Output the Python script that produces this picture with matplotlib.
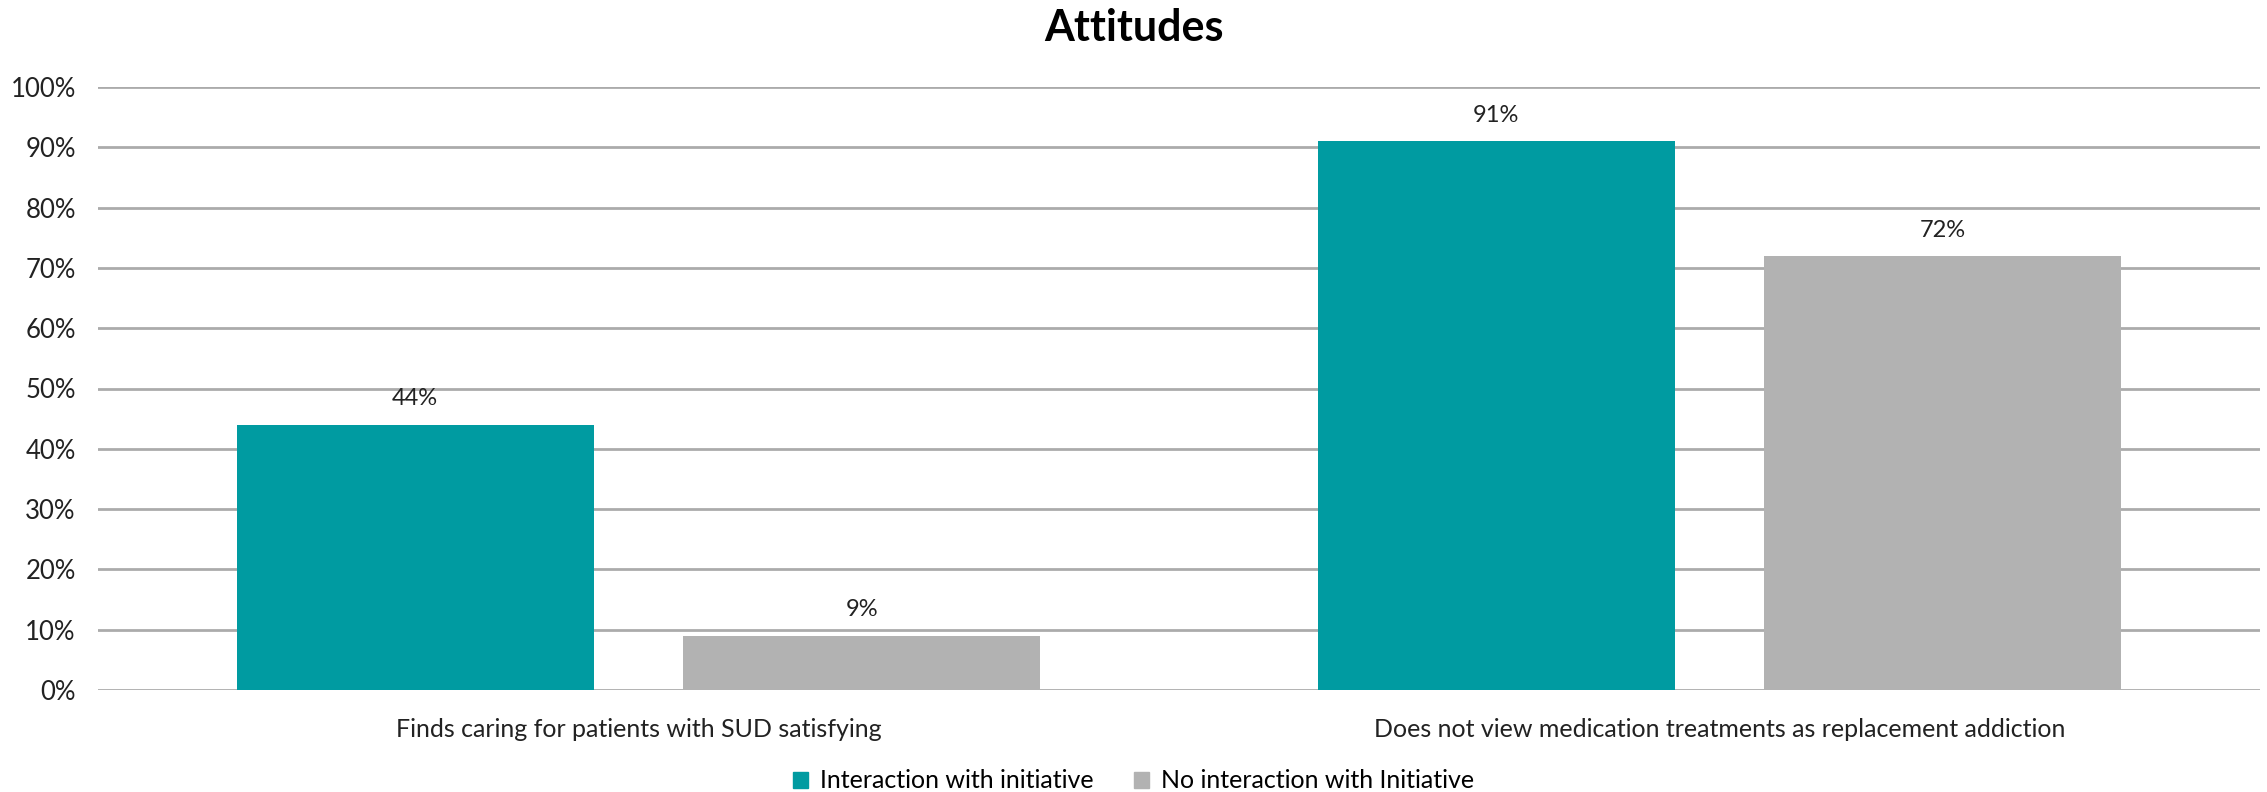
import matplotlib.pyplot as plt
import numpy as np
from matplotlib.patches import Patch

categories = ['Finds caring for patients with SUD satisfying',
              'Does not view medication treatments as replacement addiction']
series_names = ['Interaction with initiative', 'No interaction with Initiative']
interaction = [44, 91]
no_interaction = [9, 72]
ticks = list(range(0, 101, 10))

teal = '#009BA1'
grey = '#B2B2B2'
grid_col = '#ABABAB'

plt.rcParams['font.family'] = ['Lato', 'DejaVu Sans']

fig = plt.figure(figsize=(22.67, 7.92), dpi=100)
ax = fig.add_axes([98 / 2267, 1 - 690 / 792, 2162 / 2267, 603 / 792])

x = np.arange(len(categories))
w = 0.33
off = w / 2 + 0.0415
b1 = ax.bar(x - off, interaction, w, color=teal, zorder=3)
b2 = ax.bar(x + off, no_interaction, w, color=grey, zorder=3)

for bars, vals in ((b1, interaction), (b2, no_interaction)):
    for b, v in zip(bars, vals):
        ax.annotate(f'{v}%', (b.get_x() + b.get_width() / 2, v),
                    xytext=(0, 11), textcoords='offset points',
                    ha='center', va='bottom', fontsize=17, color='#222222')

ax.set_xlim(-0.5, 1.5)
ax.set_ylim(0, 100)
ax.set_yticks(ticks)
ax.set_yticklabels([f'{t}%' for t in ticks], fontsize=18.5, color='#222222')
ax.set_xticks(x)
ax.set_xticklabels(categories, fontsize=18, color='#222222')
ax.tick_params(axis='both', length=0)
ax.tick_params(axis='y', pad=16)
ax.tick_params(axis='x', pad=20)
ax.yaxis.grid(True, color=grid_col, linewidth=2, zorder=0)
for s in ax.spines.values():
    s.set_visible(False)

fig.suptitle('Attitudes', fontsize=31, fontweight='bold', y=0.99, va='top')

handles = [Patch(color=teal), Patch(color=grey)]
fig.legend(handles, series_names, loc='center', bbox_to_anchor=(0.5, 1 - 781 / 792),
           ncol=2, frameon=False, fontsize=18, handlelength=0.6, handleheight=0.6,
           handletextpad=0.5, columnspacing=1.6)

fig.savefig('out.png', dpi=100)
